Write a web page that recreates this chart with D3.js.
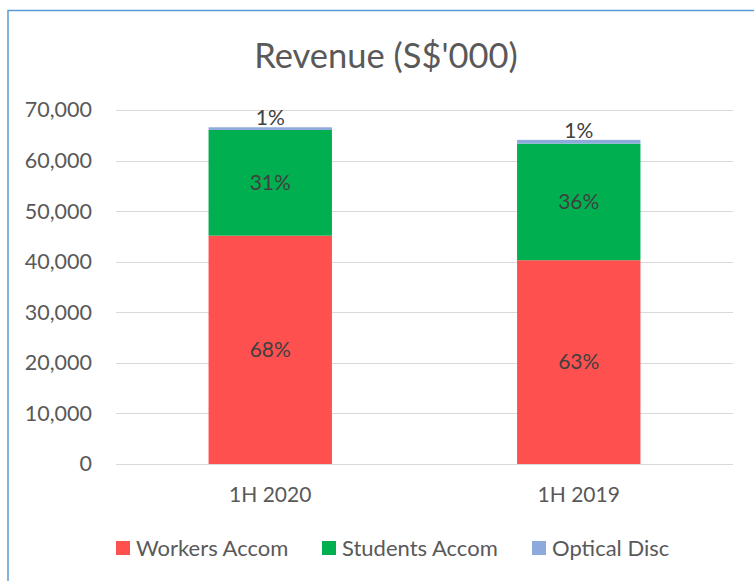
<!DOCTYPE html>
<html>
<head>
<meta charset="utf-8">
<script src="https://cdn.jsdelivr.net/npm/d3@7"></script>
<style>
    body { margin: 0; background: #fff; }
    svg { display: block; font-family: Lato, "Open Sans", sans-serif; }
</style>
</head>
<body>
<svg id="chart" width="754" height="581"></svg>
<script>
const categories = ["1H 2020", "1H 2019"];
const seriesNames = ["Workers Accom", "Students Accom", "Optical Disc"];
const workers = [45150, 40300];
const students = [20900, 23050];
const optical = [530, 740];
const pctLabels = [["68%", "63%"], ["31%", "36%"], ["1%", "1%"]];
const yTicks = [0, 10000, 20000, 30000, 40000, 50000, 60000, 70000];
const colors = ["#FF5050", "#00B050", "#8EA9DB"];

const svg = d3.select("#chart");
const textColor = "#595959";

// chart border (runs off the right/bottom edge like the screenshot)
svg.append("rect")
    .attr("x", 8).attr("y", 10.5)
    .attr("width", 800).attr("height", 620)
    .attr("fill", "#fff")
    .attr("stroke", "#5B9BD5")
    .attr("stroke-width", 1.5);

svg.append("text")
    .attr("x", 386).attr("y", 68)
    .attr("text-anchor", "middle")
    .attr("font-size", 34.5)
    .attr("fill", textColor)
    .text("Revenue (S$'000)");

const y = d3.scaleLinear().domain([0, 70000]).range([464, 110]);
const x = d3.scaleBand().domain(categories).range([116, 733])
    .paddingInner(0.6).paddingOuter(0.3);

// gridlines
svg.append("g").selectAll("line")
    .data(yTicks)
    .join("line")
    .attr("x1", 116).attr("x2", 733)
    .attr("y1", d => Math.round(y(d)) + 0.5)
    .attr("y2", d => Math.round(y(d)) + 0.5)
    .attr("stroke", "#D9D9D9")
    .attr("stroke-width", 1);

const yAxis = svg.append("g")
    .attr("transform", "translate(92,0)")
    .call(d3.axisLeft(y).tickValues(yTicks).tickSize(0).tickPadding(0)
        .tickFormat(d3.format(",")));
yAxis.select(".domain").remove();
yAxis.selectAll("text")
    .attr("font-size", 21.5)
    .attr("font-family", "Lato, sans-serif")
    .attr("fill", textColor);

const xAxis = svg.append("g")
    .attr("transform", "translate(0,487)")
    .call(d3.axisBottom(x).tickSize(0).tickPadding(0));
xAxis.select(".domain").remove();
xAxis.selectAll("text")
    .attr("font-size", 21)
    .attr("font-family", "Lato, sans-serif")
    .attr("fill", textColor);

const rows = categories.map((c, i) => ({
    cat: c, w: workers[i], s: students[i], o: optical[i]
}));
const stack = d3.stack().keys(["w", "s", "o"]);
const layers = stack(rows);

const bars = svg.append("g");
layers.forEach((layer, k) => {
    bars.append("g")
        .attr("fill", colors[k])
        .selectAll("rect")
        .data(layer)
        .join("rect")
        .attr("x", d => x(d.data.cat))
        .attr("width", x.bandwidth())
        .attr("y", d => y(d[1]))
        .attr("height", d => y(d[0]) - y(d[1]));
});

// data labels
layers.forEach((layer, k) => {
    svg.append("g").selectAll("text")
        .data(layer)
        .join("text")
        .attr("x", d => x(d.data.cat) + x.bandwidth() / 2)
        .attr("y", d => (y(d[0]) + y(d[1])) / 2 - (k === 2 ? 11 : 0))
        .attr("dy", "0.35em")
        .attr("text-anchor", "middle")
        .attr("font-size", 21)
        .attr("fill", "#404040")
        .text((d, i) => pctLabels[k][i]);
});

// legend
const legendX = [116, 322, 532];
const legend = svg.append("g").selectAll("g")
    .data(seriesNames)
    .join("g")
    .attr("transform", (d, i) => `translate(${legendX[i]},548)`);
legend.append("rect")
    .attr("x", 0).attr("y", -7)
    .attr("width", 14).attr("height", 14)
    .attr("fill", (d, i) => colors[i]);
legend.append("text")
    .attr("x", 20).attr("dy", "0.35em")
    .attr("font-size", 22)
    .attr("fill", textColor)
    .text(d => d);
</script>
</body>
</html>
